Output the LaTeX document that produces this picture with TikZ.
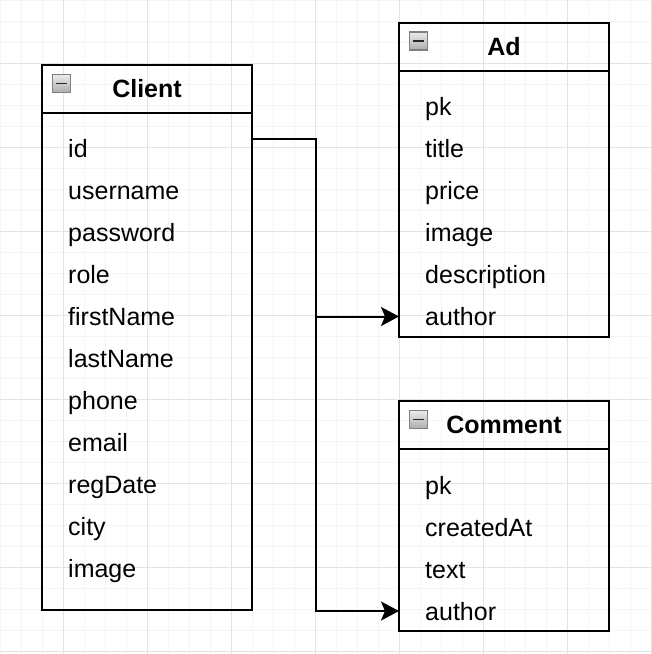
\documentclass[tikz,border=0pt]{standalone}
\usepackage{fontspec}
\setmainfont{Liberation Sans}
\usetikzlibrary{arrows.meta,calc,shadings}
\begin{document}
\begin{tikzpicture}[x=1pt,y=-1pt,
  minorgrid/.style={draw=black!4,line width=1pt},
  majorgrid/.style={draw=black!11,line width=1pt},
  tablehead/.style={draw=black,line width=2pt,rectangle,anchor=north west,minimum width=210pt,minimum height=48pt,inner sep=0pt,outer sep=0pt,font=\fontsize{25}{30}\selectfont\bfseries},
  tablebody/.style={draw=black,line width=2pt,rectangle,anchor=north west,minimum width=210pt,inner sep=0pt,outer sep=0pt},
  field/.style={anchor=base west,inner sep=0pt,font=\fontsize{25}{30}\selectfont},
  collapse/.style={rectangle,minimum size=18pt,inner sep=0pt,draw=black!50,line width=1.2pt,top color=black!8,bottom color=black!32,
     path picture={\draw[line width=1.7pt,black!85] ([xshift=3.5pt]path picture bounding box.west) -- ([xshift=-3.5pt]path picture bounding box.east);}},
  conn/.style={draw=black,line width=2pt},
  tip/.style={-{Stealth[length=18pt,width=19pt,inset=4pt]}}
]
\useasboundingbox (0,0) rectangle (652,654);
\fill[white] (0,0) rectangle (652,654);
% grid
\foreach \k in {0,...,31} {
  \draw[minorgrid] (\k*21,0) -- (\k*21,654);
  \draw[minorgrid] (0,\k*21) -- (652,\k*21);
}
\foreach \k in {3,7,...,31} {
  \draw[majorgrid] (\k*21,0) -- (\k*21,654);
  \draw[majorgrid] (0,\k*21) -- (652,\k*21);
}
% Client
\node[tablehead] (clienth) at (42,65) {Client};
\node[tablebody,minimum height=497pt] (client) at (42,113) {};
\node[collapse] (clientmin) at ($(clienth.north west)+(19.5,18.5)$) {};
\foreach \t [count=\i] in {id,username,password,role,firstName,lastName,phone,email,regDate,city,image}
  \node[field] (c\i) at (68,{157+42*(\i-1)}) {\t};
% Ad
\node[tablehead] (adh) at (399,22.5) {Ad};
\node[tablebody,minimum height=266.5pt] (ad) at (399,70.5) {};
\node[collapse] (admin) at ($(adh.north west)+(19.5,18.5)$) {};
\foreach \t [count=\i] in {pk,title,price,image,description,author}
  \node[field] (a\i) at (425,{115+42*(\i-1)}) {\t};
% Comment
\node[tablehead] (commenth) at (399,401) {Comment};
\node[tablebody,minimum height=182pt] (comment) at (399,449) {};
\node[collapse] (commentmin) at ($(commenth.north west)+(19.5,18.5)$) {};
\foreach \t [count=\i] in {pk,createdAt,text,author}
  \node[field] (m\i) at (425,{494+42*(\i-1)}) {\t};
% connectors
\coordinate (cport) at ($(client.north east)+(0,25.5)$);
\coordinate (bend) at ($(cport)+(64,0)$);
\coordinate (adin) at ($(a6.base -| ad.west)+(0,-8.5)$);
\coordinate (cmin) at ($(m4.base -| comment.west)+(0,-9)$);
\draw[conn,tip] (cport) -- (bend) |- (adin);
\draw[conn,tip] (bend) |- (cmin);
\end{tikzpicture}
\end{document}
